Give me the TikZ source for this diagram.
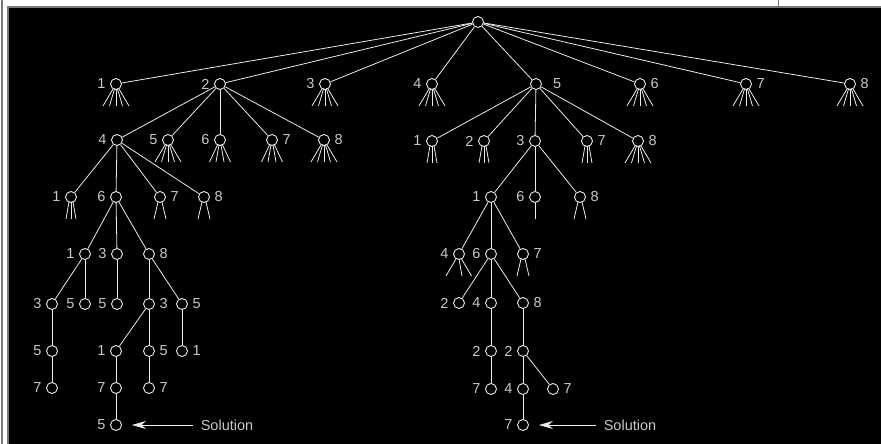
\documentclass[tikz,border=0pt]{standalone}
\usepackage{fontspec}
\setmainfont{Liberation Sans}
\usetikzlibrary{arrows.meta}
\definecolor{linec}{RGB}{235,235,235}
\definecolor{txtc}{RGB}{200,200,200}
\definecolor{frame}{RGB}{120,120,120}
\newcommand\stubset[2]{\foreach \sa/\sb in #2 {\draw[edge] (#1.south) ++(\sa,-1) -- ++(\sb,17);}}
\newcommand\wfive{-3/-10,-1.5/-5,0/0,1.5/5,3/10}
\newcommand\wfour{-2.5/-8,-1/-3,1/3,2.5/8}
\newcommand\nthree{-2/-3,0/0,2/3}
\newcommand\ntwo{-2/-4,2/4}
\begin{document}
\begin{tikzpicture}[x=1pt,y=-1pt,
  nd/.style={circle,draw=linec,line width=0.9pt,minimum size=11pt,inner sep=0pt},
  edge/.style={draw=linec,line width=0.8pt},
  lbl/.style={text=txtc,font=\fontsize{14.5}{16}\selectfont,inner sep=0pt},
  L/.style={label={[lbl,label distance=4.5pt]left:#1}},
  R/.style={label={[lbl,label distance=4.5pt]right:#1}},
  RR/.style={label={[lbl,label distance=11pt]right:#1}},
  arr/.style={edge,-{Stealth[length=14pt,width=8pt]}}
]
\useasboundingbox (0,0) rectangle (881,444);
\fill[white] (0,0) rectangle (881,444);
\fill[black] (8,7) rectangle (881,444);
\draw[frame,line width=1.5pt] (8,444) -- (8,7) -- (881,7);
\draw[frame,line width=1.5pt] (2,0) -- (2,444);
\draw[frame,line width=1pt] (778,0) -- (778,7);

% root and level 1
\node[nd] (R) at (478,22) {};
\node[nd,L=1] (a1) at (116,84) {};
\node[nd,L=2] (a2) at (220,84) {};
\node[nd,L=3] (a3) at (325,84) {};
\node[nd,L=4] (a4) at (432,84) {};
\node[nd,RR=5] (a5) at (536,84) {};
\node[nd,R=6] (a6) at (640,84) {};
\node[nd,R=7] (a7) at (746,84) {};
\node[nd,R=8] (a8) at (850,84) {};
\foreach \n in {a1,a2,a3,a4,a5,a6,a7,a8} {\draw[edge] (R) -- (\n);}
\foreach \n in {a1,a3,a4,a6,a7,a8} {\stubset{\n}{\wfive}}

% level 2
\node[nd,L=4] (b4) at (117,140) {};
\node[nd,L=5] (b5) at (168,140) {};
\node[nd,L=6] (b6) at (220,140) {};
\node[nd,R=7] (b7) at (272,140) {};
\node[nd,R=8] (b8) at (324,140) {};
\foreach \n in {b4,b5,b6,b7,b8} {\draw[edge] (a2) -- (\n);}
\stubset{b5}{\wfive}
\stubset{b8}{\wfive}
\stubset{b6}{\wfour}
\stubset{b7}{\wfour}

\node[nd,L=1] (c1) at (432,141) {};
\node[nd,L=2] (c2) at (484,141) {};
\node[nd,L=3] (c3) at (535,141) {};
\node[nd,R=7] (c7) at (587,141) {};
\node[nd,R=8] (c8) at (638,141) {};
\foreach \n in {c1,c2,c3,c7,c8} {\draw[edge] (a5) -- (\n);}
\stubset{c1}{\nthree}
\stubset{c2}{\nthree}
\stubset{c7}{\nthree}
\stubset{c8}{\wfive}

% level 3
\node[nd,L=1] (d1) at (71,197) {};
\node[nd,L=6] (d6) at (116,197) {};
\node[nd,R=7] (d7) at (160,197) {};
\node[nd,R=8] (d8) at (204,197) {};
\foreach \n in {d1,d6,d7,d8} {\draw[edge] (b4) -- (\n);}
\stubset{d1}{\nthree}
\stubset{d7}{\ntwo}
\stubset{d8}{\ntwo}

\node[nd,L=1] (e1) at (491,197) {};
\node[nd,L=6] (e6) at (535,197) {};
\node[nd,R=8] (e8) at (580,197) {};
\foreach \n in {e1,e6,e8} {\draw[edge] (c3) -- (\n);}
\stubset{e6}{{0/0}}
\stubset{e8}{\ntwo}

% level 4
\node[nd,L=1] (f1) at (85,254) {};
\node[nd,L=3] (f3) at (117,254) {};
\node[nd,R=8] (f8) at (149,254) {};
\foreach \n in {f1,f3,f8} {\draw[edge] (d6) -- (\n);}

\node[nd,L=4] (g4) at (459,254) {};
\node[nd,L=6] (g6) at (491,254) {};
\node[nd,R=7] (g7) at (523,254) {};
\foreach \n in {g4,g6,g7} {\draw[edge] (e1) -- (\n);}
\stubset{g4}{{-3/-10,0/3,2.5/10}}
\stubset{g7}{\ntwo}

% level 5
\node[nd,L=3] (h3) at (52,304) {};
\node[nd,L=5] (h5a) at (85,304) {};
\node[nd,L=5] (h5b) at (117,304) {};
\node[nd,R=3] (h3b) at (149,304) {};
\node[nd,R=5] (h5c) at (182,304) {};
\draw[edge] (f1) -- (h3);
\draw[edge] (f1) -- (h5a);
\draw[edge] (f3) -- (h5b);
\draw[edge] (f8) -- (h3b);
\draw[edge] (f8) -- (h5c);

\node[nd,L=2] (i2) at (459,303) {};
\node[nd,L=4] (i4) at (491,303) {};
\node[nd,R=8] (i8) at (523,303) {};
\foreach \n in {i2,i4,i8} {\draw[edge] (g6) -- (\n);}

% level 6
\node[nd,L=5] (j5) at (52,351) {};
\node[nd,L=1] (j1) at (116,351) {};
\node[nd,R=5] (j5b) at (149,351) {};
\node[nd,R=1] (j1b) at (182,351) {};
\draw[edge] (h3) -- (j5);
\draw[edge] (h3b) -- (j1);
\draw[edge] (h3b) -- (j5b);
\draw[edge] (h5c) -- (j1b);

\node[nd,L=2] (k2) at (491,351) {};
\node[nd,L=2] (k2b) at (523,351) {};
\draw[edge] (i4) -- (k2);
\draw[edge] (i8) -- (k2b);

% level 7
\node[nd,L=7] (l7a) at (52,388) {};
\node[nd,L=7] (l7b) at (116,388) {};
\node[nd,R=7] (l7c) at (149,388) {};
\draw[edge] (j5) -- (l7a);
\draw[edge] (j1) -- (l7b);
\draw[edge] (j5b) -- (l7c);

\node[nd,L=7] (m7) at (491,389) {};
\node[nd,L=4] (m4) at (523,389) {};
\node[nd,R=7] (m7b) at (553,389) {};
\draw[edge] (k2) -- (m7);
\draw[edge] (k2b) -- (m4);
\draw[edge] (k2b) -- (m7b);

% level 8
\node[nd,L=5] (n5) at (116,425) {};
\draw[edge] (l7b) -- (n5);
\node[nd,L=7] (o7) at (523,425) {};
\draw[edge] (m4) -- (o7);

% solutions
\node[lbl] (s1) at (227,425) {Solution};
\node[lbl] (s2) at (630,425) {Solution};
\draw[arr,shorten <=8pt,shorten >=10pt] (s1.west) -- (n5.east);
\draw[arr,shorten <=8pt,shorten >=10pt] (s2.west) -- (o7.east);
\end{tikzpicture}
\end{document}
